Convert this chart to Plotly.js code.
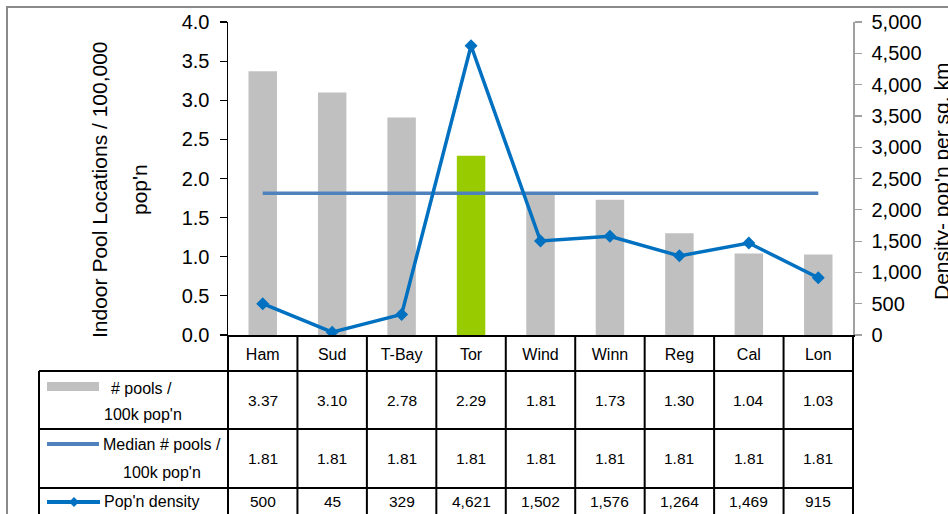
<!DOCTYPE html>
<html>
<head>
<meta charset="utf-8">
<script src="https://cdn.plot.ly/plotly-3.0.1.min.js"></script>
<style>
  html, body { margin: 0; padding: 0; background: #fff; }
  #chart { width: 948px; height: 514px; }
</style>
</head>
<body>
<div id="chart"></div>
<script>
// City data: indoor pools per 100k population, median, and population density
const categories = ['Ham', 'Sud', 'T-Bay', 'Tor', 'Wind', 'Winn', 'Reg', 'Cal', 'Lon'];
const poolsPer100k = [3.37, 3.10, 2.78, 2.29, 1.81, 1.73, 1.30, 1.04, 1.03];
const medianPools = [1.81, 1.81, 1.81, 1.81, 1.81, 1.81, 1.81, 1.81, 1.81];
const popDensity = [500, 45, 329, 4621, 1502, 1576, 1264, 1469, 915];
const highlightCity = 'Tor';

const seriesNames = [['# pools /', "100k pop'n"], ['Median # pools /', "100k pop'n"], ["Pop'n density"]];
const leftTitle = ['Indoor Pool Locations / 100,000', "pop'n"];
const rightTitle = "Density- pop'n per sq. km";

const FONT = 'Liberation Sans, Arial, Helvetica, sans-serif';
const GREY = '#C0C0C0';
const GREEN = '#99CC00';
const MEDIAN_BLUE = '#4F81BD';
const DENSITY_BLUE = '#0070C0';

// Plot-area geometry (pixels) and helpers converting page pixels to paper coords
const W = 948, H = 514;
const M = { l: 228, r: 95, t: 22, b: 179 };
const PW = W - M.l - M.r, PH = H - M.t - M.b;
const X = px => (px - M.l) / PW;
const Y = py => (M.t + PH - py) / PH;

const barColors = categories.map(c => c === highlightCity ? GREEN : GREY);

const traces = [
  {
    type: 'bar', x: categories, y: poolsPer100k, name: seriesNames[0].join(' '),
    marker: { color: barColors, line: { width: 0 } }, width: 0.41,
    hoverinfo: 'skip'
  },
  {
    type: 'scatter', mode: 'lines', x: categories, y: medianPools,
    name: seriesNames[1].join(' '),
    line: { color: MEDIAN_BLUE, width: 3.5 }, hoverinfo: 'skip'
  },
  {
    type: 'scatter', mode: 'lines+markers', x: categories, y: popDensity, yaxis: 'y2',
    name: seriesNames[2][0],
    line: { color: DENSITY_BLUE, width: 3.5 },
    marker: { symbol: 'diamond', size: 10, color: DENSITY_BLUE }, hoverinfo: 'skip'
  }
];

// Data table beneath the plot
const rowLines = [371, 429, 488];          // horizontal rules (px)
const rowCenters = [400, 458.5, 501];      // value row centres (px)
const tableBottom = 560;
const shapes = [];
const lineStyle = { color: '#000', width: 2 };

// outer chart frame
shapes.push({ type: 'rect', xref: 'paper', yref: 'paper', x0: X(7), x1: X(970), y0: Y(540), y1: Y(7),
  line: { color: '#8A8A8A', width: 2 }, fillcolor: 'rgba(0,0,0,0)', layer: 'below' });

rowLines.forEach(py => shapes.push({ type: 'line', xref: 'paper', yref: 'paper',
  x0: X(39), x1: 1, y0: Y(py), y1: Y(py), line: lineStyle }));
// legend column left edge
shapes.push({ type: 'line', xref: 'paper', yref: 'paper', x0: X(39), x1: X(39),
  y0: Y(371), y1: Y(tableBottom), line: lineStyle });
// outer left/right edges of the value grid
[0, 1].forEach(px => shapes.push({ type: 'line', xref: 'paper', yref: 'paper',
  x0: px, x1: px, y0: 0, y1: Y(tableBottom), line: lineStyle }));
// column separators at category boundaries
for (let i = 1; i < categories.length; i++) {
  shapes.push({ type: 'line', xref: 'x', yref: 'paper', x0: i - 0.5, x1: i - 0.5,
    y0: 0, y1: Y(tableBottom), line: lineStyle });
}

// legend keys in the first column
shapes.push({ type: 'rect', xref: 'paper', yref: 'paper', x0: X(47), x1: X(99), y0: Y(391), y1: Y(382),
  fillcolor: GREY, line: { width: 0 } });
shapes.push({ type: 'line', xref: 'paper', yref: 'paper', x0: X(47), x1: X(99), y0: Y(444), y1: Y(444),
  line: { color: MEDIAN_BLUE, width: 4 } });
shapes.push({ type: 'line', xref: 'paper', yref: 'paper', x0: X(47), x1: X(100), y0: Y(502), y1: Y(502),
  line: { color: DENSITY_BLUE, width: 4 } });
shapes.push({ type: 'path', xref: 'paper', yref: 'paper', xsizemode: 'pixel', ysizemode: 'pixel',
  xanchor: X(74), yanchor: Y(502), path: 'M -5 0 L 0 5 L 5 0 L 0 -5 Z',
  fillcolor: DENSITY_BLUE, line: { width: 0 } });

const annotations = [];
const tableFont = { family: FONT, size: 15.5, color: '#000' };
const legendFont = { family: FONT, size: 16, color: '#000' };

const fmt2 = v => v.toFixed(2);
const fmtInt = v => v.toLocaleString('en-US');
const rows = [poolsPer100k.map(fmt2), medianPools.map(fmt2), popDensity.map(fmtInt)];
rows.forEach((vals, r) => {
  vals.forEach((txt, i) => annotations.push({
    xref: 'x', yref: 'paper', x: categories[i], y: Y(rowCenters[r]),
    text: txt, showarrow: false, xanchor: 'center', yanchor: 'middle', font: tableFont
  }));
});

// series labels
const labelPos = [
  [[141.5, 388], [143, 414]],
  [[162, 444], [162, 472]],
  [[151.5, 501]]
];
seriesNames.forEach((lines, r) => lines.forEach((t, k) => annotations.push({
  xref: 'paper', yref: 'paper', x: X(labelPos[r][k][0]), y: Y(labelPos[r][k][1]),
  text: t, showarrow: false, xanchor: 'center', yanchor: 'middle', font: legendFont
})));

// axis titles
const titleFont = { family: FONT, size: 21, color: '#000' };
annotations.push({ xref: 'paper', yref: 'paper', x: X(99), y: Y(190), text: leftTitle[0],
  textangle: -90, showarrow: false, xanchor: 'center', yanchor: 'middle', font: titleFont });
annotations.push({ xref: 'paper', yref: 'paper', x: X(139), y: Y(190), text: leftTitle[1],
  textangle: -90, showarrow: false, xanchor: 'center', yanchor: 'middle', font: titleFont });
annotations.push({ xref: 'paper', yref: 'paper', x: X(941), y: Y(182), text: rightTitle,
  textangle: -90, showarrow: false, xanchor: 'center', yanchor: 'middle', font: titleFont });

const tickFont = { family: FONT, size: 20, color: '#000' };

const layout = {
  width: W, height: H,
  margin: M,
  paper_bgcolor: '#fff', plot_bgcolor: '#fff',
  showlegend: false,
  font: { family: FONT, color: '#000' },
  xaxis: {
    type: 'category', range: [-0.5, categories.length - 0.5],
    showline: true, linecolor: '#000', linewidth: 2,
    ticks: '', showgrid: false, zeroline: false,
    tickfont: { family: FONT, size: 16, color: '#000' }, ticklabelstandoff: 4,
    fixedrange: true
  },
  yaxis: {
    range: [0, 4], dtick: 0.5, tick0: 0, tickformat: '.1f',
    showline: true, linecolor: '#000', linewidth: 1.5,
    ticks: 'outside', ticklen: 7, tickwidth: 1.2, tickcolor: '#000',
    showgrid: false, zeroline: false, tickfont: tickFont, ticklabelstandoff: 6,
    fixedrange: true
  },
  yaxis2: {
    overlaying: 'y', side: 'right', range: [0, 5000], dtick: 500, tick0: 0, tickformat: ',d',
    showline: true, linecolor: '#A0A0A0', linewidth: 1.5,
    ticks: 'outside', ticklen: 7, tickwidth: 1.2, tickcolor: '#A0A0A0',
    showgrid: false, zeroline: false, tickfont: tickFont, ticklabelstandoff: 6,
    fixedrange: true
  },
  shapes: shapes,
  annotations: annotations
};

Plotly.newPlot('chart', traces, layout, { staticPlot: true, displayModeBar: false });
</script>
</body>
</html>
